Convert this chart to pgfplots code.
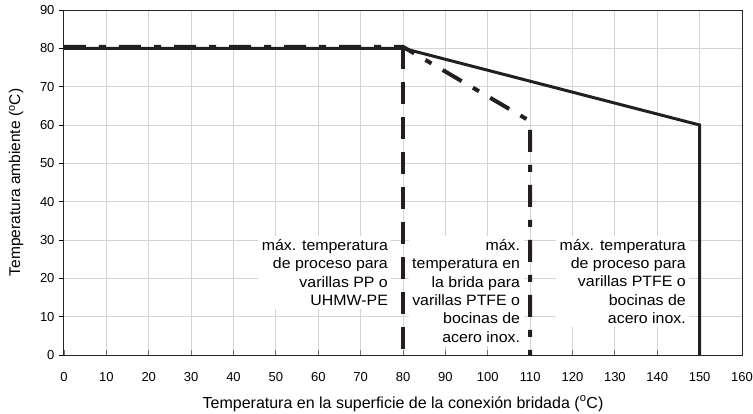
\documentclass[border=0pt]{standalone}
\usepackage{fontspec}
\setmainfont{Liberation Sans}
\newfontfamily\widefont{Liberation Sans}[FakeStretch=1.06]
\usepackage{pgfplots}
\pgfplotsset{compat=1.18}
\definecolor{ln}{RGB}{35,31,32}
\definecolor{gridc}{RGB}{212,212,212}

\begin{document}
\fontsize{13bp}{16bp}\selectfont
\begin{tikzpicture}
\begin{axis}[
    scale only axis,
    width=678bp,
    height=345bp,
    xmin=0, xmax=160,
    ymin=0, ymax=90,
    xtick distance=10,
    ytick distance=10,
    tick pos=left,
    ytick align=outside,
    xtick align=inside,
    major tick length=5bp,
    ytick style={draw=black, line width=0.8bp},
    xtick style={draw=black!55, line width=0.8bp},
    grid=major,
    grid style={draw=gridc, line width=1bp},
    axis line style={draw=black!85, line width=1bp},
    /pgf/number format/assume math mode=true,
    tick label style={font=\fontsize{13bp}{16bp}\selectfont},
    xticklabel style={yshift=-12.5bp},
    xlabel={Temperatura en la superficie de la conexión bridada (\textsuperscript{o}C)},
    xlabel style={font=\fontsize{16bp}{18bp}\selectfont,
        at={(axis description cs:0.5,0)}, anchor=base, yshift=-53bp},
    ylabel={Temperatura ambiente (\textsuperscript{o}C)},
    ylabel style={font=\fontsize{15.5bp}{18bp}\selectfont,
        at={(axis description cs:-0.0649,0.5)}, anchor=base},
    clip=false,
]
% solid line
\addplot[draw=ln, line width=3bp] coordinates {
    (0,80) (80,80) (150,60) (150,0)
};
% dashed line
\addplot[draw=ln, line width=4bp, dash pattern=on 22bp off 13bp] coordinates {
    (80,80.3) (80,0)
};
% dash-dot line
\addplot[draw=ln, line width=4bp, dash pattern=on 22bp off 13bp on 7bp off 13bp] coordinates {
    (0,80.4) (80,80.4) (110,61) (110,0)
};

\node[fill=white, align=right, anchor=east, inner sep=3.5bp,
      font=\fontsize{15bp}{18.3bp}\widefont] at (axis cs:77.3,21.5)
    {máx. temperatura\\de proceso para\\varillas PP o\\UHMW-PE};
\node[fill=white, align=right, anchor=east, inner sep=3.5bp,
      font=\fontsize{15bp}{18.3bp}\widefont] at (axis cs:108.5,16.7)
    {máx.\\temperatura en\\la brida para\\varillas PTFE o\\bocinas de\\acero inox.};
\node[fill=white, align=right, anchor=east, inner sep=3.5bp,
      font=\fontsize{15bp}{18.3bp}\widefont] at (axis cs:147.6,19.2)
    {máx. temperatura\\de proceso para\\varillas PTFE o\\bocinas de\\acero inox.};
\end{axis}
\pgfresetboundingbox
\useasboundingbox (-64bp,-59bp) rectangle (689bp,355bp);
\end{tikzpicture}
\end{document}
